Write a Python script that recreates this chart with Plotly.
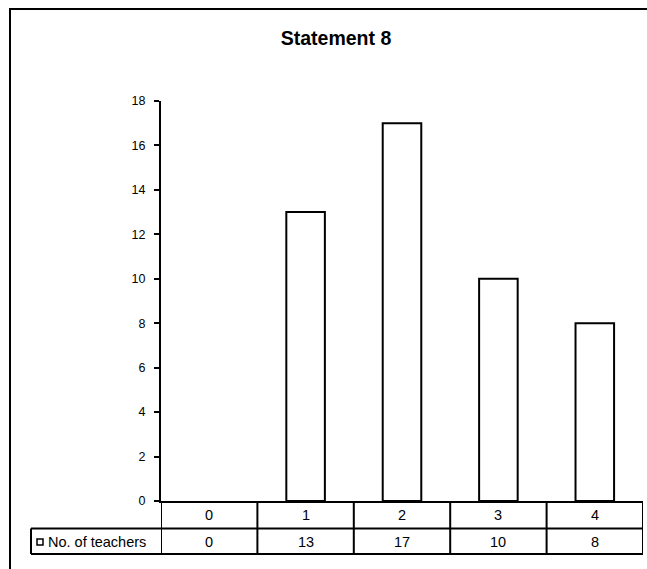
import plotly.graph_objects as go

categories = [0, 1, 2, 3, 4]
teachers = [0, 13, 17, 10, 8]
series_name = "No. of teachers"
title_text = "Statement 8"
y_ticks = list(range(0, 19, 2))

FONT = "Liberation Sans, Arial, sans-serif"
W, H = 647, 569
L, R, T, B = 161, 4, 101, 68
PW = W - L - R
PH = H - T - B
TABLE_FS = 14.5


def px_x(px):
    return (px - L) / PW


def px_y(py):
    return (H - B - py) / PH


fig = go.Figure()
fig.add_trace(go.Bar(
    x=categories, y=teachers, name=series_name,
    marker=dict(color="white",
                line=dict(color="black", width=[0 if v == 0 else 2 for v in teachers])),
    width=0.4, showlegend=False,
))

shapes = []
row1_bot = px_y(528.5)
row2_bot = px_y(554)
legend_left = px_x(31)
line = dict(color="black", width=2)

# horizontal table lines
for yy in (row1_bot, row2_bot):
    shapes.append(dict(type="line", xref="paper", yref="paper",
                       x0=legend_left, x1=1, y0=yy, y1=yy, line=line))
# vertical table lines at category boundaries
for i in range(len(categories) + 1):
    shapes.append(dict(type="line", xref="x", yref="paper",
                       x0=categories[0] - 0.5 + i, x1=categories[0] - 0.5 + i,
                       y0=0, y1=row2_bot, line=line))
# legend cell left edge
shapes.append(dict(type="line", xref="paper", yref="paper",
                   x0=legend_left, x1=legend_left, y0=row1_bot, y1=row2_bot, line=line))
# legend key square
shapes.append(dict(type="rect", xref="paper", yref="paper",
                   x0=px_x(37), x1=px_x(43), y0=px_y(545), y1=px_y(539),
                   line=dict(color="black", width=1.5), fillcolor="white"))
# outer chart border (top and left visible)
shapes.append(dict(type="rect", xref="paper", yref="paper",
                   x0=px_x(10), x1=px_x(W + 20), y0=px_y(H + 20), y1=px_y(9),
                   line=dict(color="black", width=2), fillcolor="rgba(0,0,0,0)"))

annotations = []
for c, v in zip(categories, teachers):
    annotations.append(dict(x=c, y=px_y(515), xref="x", yref="paper",
                            text=str(c), showarrow=False, yanchor="middle",
                            font=dict(size=TABLE_FS, color="black", family=FONT)))
    annotations.append(dict(x=c, y=px_y(542), xref="x", yref="paper",
                            text=str(v), showarrow=False, yanchor="middle",
                            font=dict(size=TABLE_FS, color="black", family=FONT)))
annotations.append(dict(x=px_x(46), y=px_y(542), xref="paper", yref="paper",
                        text=series_name, showarrow=False, xanchor="left",
                        yanchor="middle",
                        font=dict(size=TABLE_FS, color="black", family=FONT)))

fig.update_layout(
    width=W, height=H,
    margin=dict(l=L, r=R, t=T, b=B),
    paper_bgcolor="white", plot_bgcolor="white",
    title=dict(text="<b>" + title_text + "</b>", x=336 / W, xanchor="center",
               y=1 - 38 / H, yanchor="middle",
               font=dict(size=19.5, color="black", family=FONT)),
    font=dict(family=FONT, color="black"),
    xaxis=dict(range=[categories[0] - 0.5, categories[-1] + 0.5],
               showticklabels=False, ticks="", showgrid=False, zeroline=False,
               showline=True, linecolor="black", linewidth=2),
    yaxis=dict(range=[0, 18], tickvals=y_ticks, ticks="outside", ticklen=5,
               tickwidth=2, tickcolor="black", showgrid=False, zeroline=False,
               showline=True, linecolor="black", linewidth=2,
               ticklabelstandoff=6,
               tickfont=dict(size=12.5, color="black", family=FONT)),
    shapes=shapes, annotations=annotations,
    bargap=0.6,
)

fig.write_html("out.html", config={"displayModeBar": False})

# remove the default body margin so the figure sits at the page origin
with open("out.html", "r", encoding="utf-8") as f:
    html = f.read()
html = html.replace("<head>", "<head><style>html,body{margin:0;padding:0;overflow:hidden;}</style>", 1)
with open("out.html", "w", encoding="utf-8") as f:
    f.write(html)
